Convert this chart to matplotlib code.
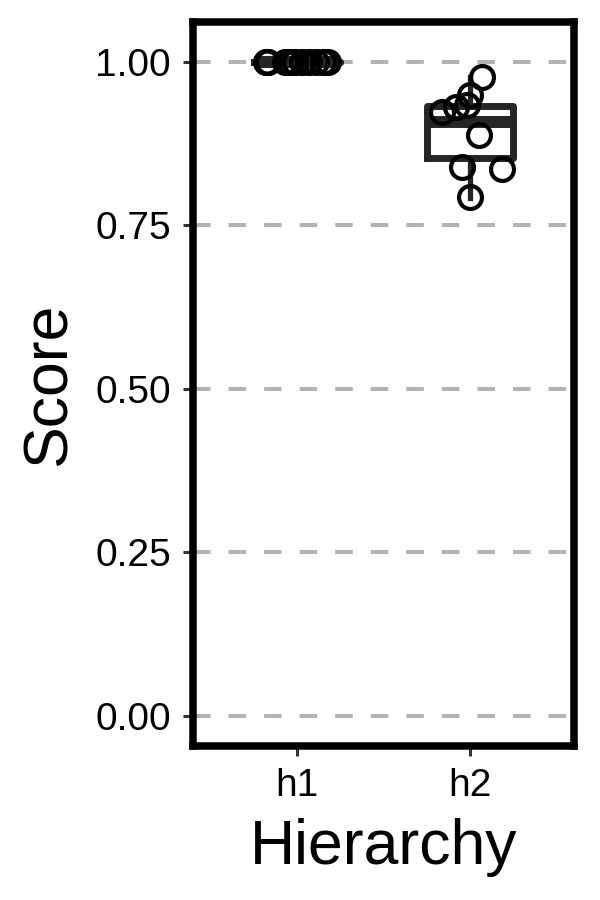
import matplotlib
matplotlib.use("Agg")
import matplotlib.pyplot as plt
import numpy as np

plt.rcParams['font.family'] = ['Liberation Sans', 'DejaVu Sans']
plt.rcParams['lines.scale_dashes'] = False

categories = ["h1", "h2"]

# individual scores (jittered points)
h1_scores = [1.0] * 12
h1_jitter = [-0.18, -0.175, -0.17, -0.165, -0.07, -0.04, -0.01, 0.03, 0.07, 0.11, 0.15, 0.18]
h2_scores = [0.9775, 0.9495, 0.934, 0.9316, 0.924, 0.888, 0.8397, 0.837, 0.7937]
h2_jitter = [0.069, 0.002, -0.017, -0.084, -0.16, 0.05, -0.046, 0.183, 0.002]

# box statistics
box_q1 = [1.0, 0.8525]
box_med = [1.0, 0.908]
box_q3 = [1.0, 0.932]
box_lo = [1.0, 0.792]
box_hi = [1.0, 0.977]

yticks = [0.0, 0.25, 0.5, 0.75, 1.0]
ytick_labels = ["0.00", "0.25", "0.50", "0.75", "1.00"]

fig = plt.figure(figsize=(6, 9), dpi=100)
ax = fig.add_axes([0.3217, 0.1711, 0.9567 - 0.3217, 0.9756 - 0.1711])

ax.set_xlim(0.4, 2.6)
ax.set_ylim(-0.0466, 1.0613)

# grid
for yv in yticks:
    ax.axhline(yv, color="#b3b3b3", lw=2.9, linestyle=(0, (12.6, 13.0)), zorder=0)

positions = np.arange(1, len(categories) + 1)
stats = []
for i in range(len(categories)):
    stats.append(dict(med=box_med[i], q1=box_q1[i], q3=box_q3[i],
                      whislo=box_lo[i], whishi=box_hi[i], fliers=[]))
box_color = "#262626"
ax.bxp(stats, positions=positions, widths=0.5, showfliers=False,
       showcaps=False, patch_artist=False,
       boxprops=dict(color=box_color, lw=5),
       whiskerprops=dict(color=box_color, lw=3.8),
       medianprops=dict(color=box_color, lw=8.6, solid_capstyle='butt'),
       manage_ticks=False, zorder=2)

ax.plot(positions[0] + np.array(h1_jitter), h1_scores, linestyle="none",
        marker="o", ms=16.5, mfc="none", mec="black", mew=3.0, zorder=3)
ax.plot(positions[1] + np.array(h2_jitter), h2_scores, linestyle="none",
        marker="o", ms=16.5, mfc="none", mec="black", mew=3.0, zorder=3)

ax.set_xticks(positions)
ax.set_xticklabels(categories)
ax.set_yticks(yticks)
ax.set_yticklabels(ytick_labels)
ax.tick_params(axis="both", labelsize=28, length=7, width=2.2,
               color="#333333", labelcolor="black")
ax.tick_params(axis="y", pad=9)
ax.tick_params(axis="x", pad=9)

for s in ax.spines.values():
    s.set_linewidth(5.4)
    s.set_color("black")

ax.set_xlabel("Hierarchy", fontsize=45, labelpad=10)
ax.set_ylabel("Score", fontsize=45, labelpad=12)

fig.savefig("out.png", dpi=100)
